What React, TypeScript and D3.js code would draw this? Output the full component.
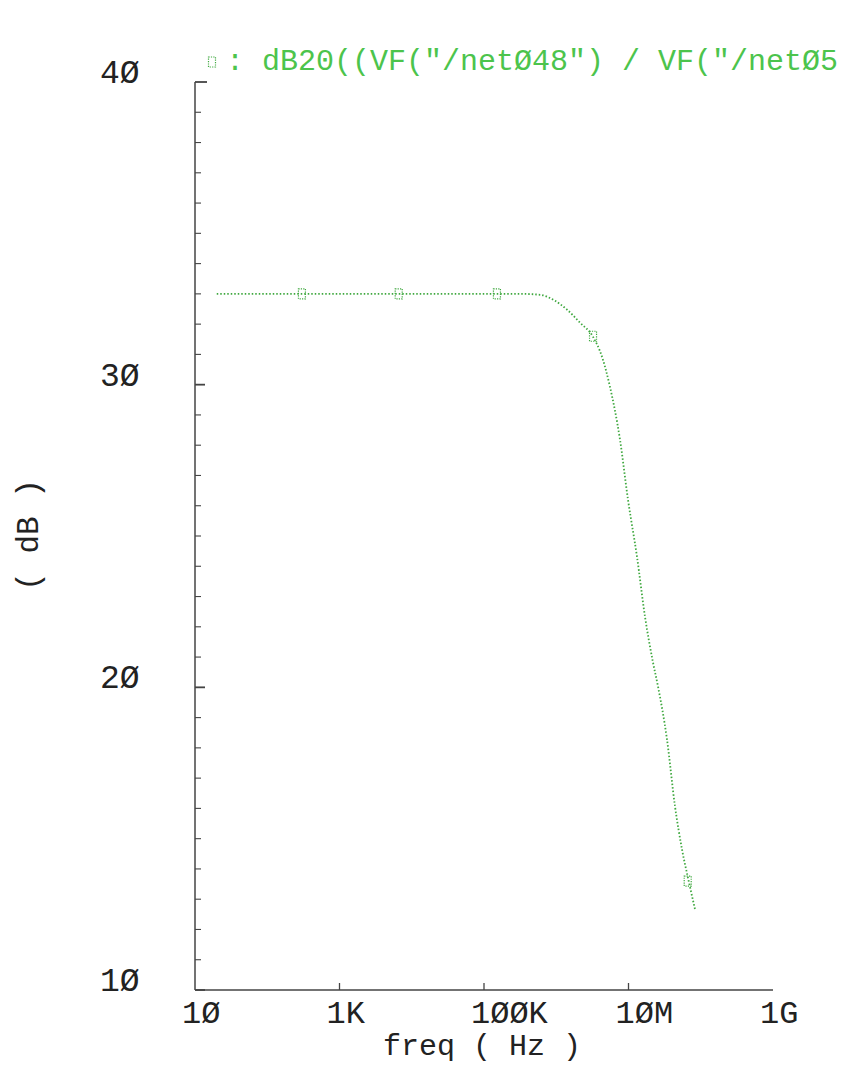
import React from 'react';
import * as d3 from 'd3';

// gain curve (Hz, dB)
const freqs = [20, 100, 1e3, 1e4, 1e5, 3.16e5, 5.96e5, 9.62e5, 1.41e6, 2.13e6, 3.23e6, 4.3e6, 5.54e6,
  7.63e6, 9.84e6, 1.31e7, 1.69e7, 2.18e7, 2.56e7, 3.41e7, 4.4e7, 5.5e7, 6.87e7, 8.32e7];
const gain = [33, 33, 33, 33, 33, 33, 32.97, 32.77, 32.48, 32.05, 31.58, 30.92, 29.93,
  28.18, 26.2, 24.32, 22.34, 20.83, 20.03, 18.28, 16.07, 14.65, 13.56, 12.67];

const markerFreqs = [302, 6.6e3, 1.51e5, 3.23e6, 6.6e7];
const markerGain = [33, 33, 33, 31.6, 13.6];

const xTicks = [10, 1e3, 1e5, 1e7, 1e9];
const xTickLabels = ['1Ø', '1K', '1ØØK', '1ØM', '1G'];
const yTicks = [10, 20, 30, 40];
const yTickLabels = ['1Ø', '2Ø', '3Ø', '4Ø'];

const title = ': dB20((VF("/netØ48") / VF("/netØ5';

const W = 853;
const H = 1078;
const margin = { top: 82, right: 80, bottom: 88, left: 195 };

const green = '#3fa83f';
const axisColor = '#444';
const font = '"Liberation Mono", "DejaVu Sans Mono", monospace';

export default function App() {
  const x = d3.scaleLog().domain([10, 1e9]).range([margin.left, W - margin.right]);
  const y = d3.scaleLinear().domain([10, 40]).range([H - margin.bottom, margin.top]);

  const pts = freqs.map((f, i) => [f, gain[i]] as [number, number]);
  const line = d3.line<[number, number]>()
    .x((d) => x(d[0]))
    .y((d) => y(d[1]))
    .curve(d3.curveMonotoneX);

  const minor = d3.range(10, 41, 1);
  const x0 = x(10);
  const y0 = y(10);

  return (
    <svg width={W} height={H} style={{ position: 'absolute', left: 0, top: 0, background: '#fff' }}>
      {/* y axis */}
      <line x1={x0} x2={x0} y1={y(40)} y2={y0} stroke={axisColor} strokeWidth={1.5} />
      {minor.map((v) => (
        <line key={'yt' + v} x1={x0} x2={x0 + (v % 10 === 0 ? (v === 40 ? 12 : 10) : 6)}
          y1={y(v)} y2={y(v)} stroke={axisColor} strokeWidth={v % 10 === 0 ? 1.8 : 1.1} />
      ))}
      {yTicks.map((v, i) => (
        <text key={'yl' + v} x={100} y={y(v) + 1} fontFamily={font} fontSize={33} fill="#222">
          {yTickLabels[i]}
        </text>
      ))}
      <text transform={`translate(38,535) rotate(-90)`} textAnchor="middle" fontFamily={font}
        fontSize={31} fill="#222">( dB )</text>

      {/* x axis */}
      <line x1={x0} x2={x(1e9)} y1={y0} y2={y0} stroke={axisColor} strokeWidth={1.5} />
      {xTicks.slice(1, -1).map((v) => (
        <line key={'xt' + v} x1={x(v)} x2={x(v)} y1={y0} y2={y0 - 7} stroke={axisColor} strokeWidth={1.3} />
      ))}
      {xTicks.map((v, i) => (
        <text key={'xl' + v} x={x(v) - 13} y={1023} fontFamily={font} fontSize={32} fill="#222">
          {xTickLabels[i]}
        </text>
      ))}
      <text x={482} y={1055} textAnchor="middle" fontFamily={font} fontSize={30} fill="#222">
        freq ( Hz )
      </text>

      {/* curve */}
      <path d={line(pts) || ''} fill="none" stroke={green} strokeWidth={1.8} strokeDasharray="1.5,2" />
      {markerFreqs.map((f, i) => (
        <g key={'m' + i} transform={`translate(${x(f)},${y(markerGain[i])})`}>
          <rect x={-3.5} y={-5} width={7} height={10} fill="none" stroke={green} strokeWidth={1.2}
            strokeDasharray="1.2,1.2" />
        </g>
      ))}

      {/* legend / title */}
      <g transform="translate(212,62)">
        <rect x={-3.5} y={-5} width={7} height={10} fill="none" stroke={green} strokeWidth={1.2}
          strokeDasharray="1.2,1.2" />
      </g>
      <text x={226} y={70} fontFamily={font} fontSize={30} fill="#4cc44c">{title}</text>
    </svg>
  );
}
